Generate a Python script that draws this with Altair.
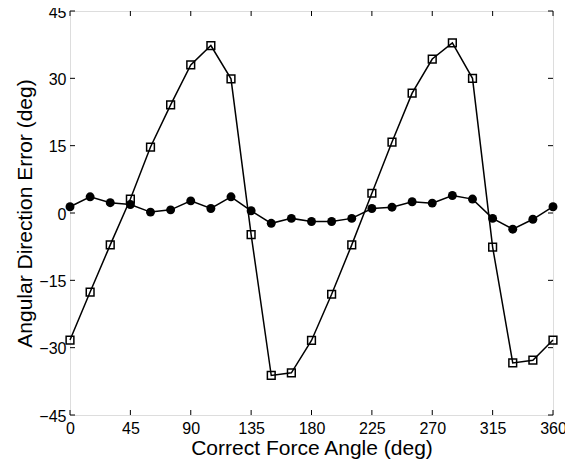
import altair as alt
import pandas as pd

angles = list(range(0, 361, 15))
square_err = [-28.3, -17.6, -7.1, 3.1, 14.7, 24.1, 33.0, 37.3, 29.9, -4.8, -36.2, -35.6, -28.4,
              -18.1, -7.1, 4.4, 15.8, 26.7, 34.3, 37.9, 30.0, -7.6, -33.4, -32.8, -28.3]
circle_err = [1.4, 3.6, 2.3, 1.9, 0.2, 0.7, 2.7, 1.0, 3.6, 0.5, -2.3, -1.2, -1.9,
              -1.9, -1.2, 1.0, 1.3, 2.5, 2.2, 3.9, 3.1, -1.2, -3.6, -1.4, 1.4]
x_ticks = [0, 45, 90, 135, 180, 225, 270, 315, 360]
y_ticks = [-45, -30, -15, 0, 15, 30, 45]

sq = pd.DataFrame({"angle": angles, "err": square_err})
ci = pd.DataFrame({"angle": angles, "err": circle_err})
xt = pd.DataFrame({"v": x_ticks})
yt = pd.DataFrame({"v": y_ticks})

FONT = "Liberation Sans"
xs = alt.Scale(domain=[0, 360], nice=False)
ys = alt.Scale(domain=[-45, 45], nice=False)

xax = alt.Axis(values=x_ticks, title="Correct Force Angle (deg)", grid=False, ticks=False,
               domain=False, labelPadding=5, labelFontSize=16, labelColor="black",
               titleFontSize=21, titleFontWeight="normal", titleColor="black",
               titlePadding=1, labelFont=FONT, titleFont=FONT, labelFlush=False)
yax = alt.Axis(values=y_ticks, title="Angular Direction Error (deg)", grid=False, ticks=False,
               domain=False, labelPadding=4, labelFontSize=16, labelColor="black",
               titleFontSize=21, titleFontWeight="normal", titleColor="black",
               titlePadding=3, labelFont=FONT, titleFont=FONT, labelFlush=False,
               labelOffset=1, labelExpr="replace(datum.label, '-', '–')")

base_x = alt.X("angle:Q", scale=xs, axis=xax)
base_y = alt.Y("err:Q", scale=ys, axis=yax)

ci_line = alt.Chart(ci).mark_line(color="black", strokeWidth=1.5).encode(x=base_x, y=base_y)
ci_pts = alt.Chart(ci).mark_point(shape="circle", filled=True, color="black", size=80, opacity=1).encode(
    x=alt.X("angle:Q", scale=xs), y=alt.Y("err:Q", scale=ys))
sq_line = alt.Chart(sq).mark_line(color="black", strokeWidth=1.5).encode(
    x=alt.X("angle:Q", scale=xs), y=alt.Y("err:Q", scale=ys))
sq_pts = alt.Chart(sq).mark_point(shape="square", filled=False, color="black", size=60,
                                  strokeWidth=1.5, opacity=1).encode(
    x=alt.X("angle:Q", scale=xs), y=alt.Y("err:Q", scale=ys))

TL = 5
xt_bot = alt.Chart(xt).mark_rule(color="black", strokeWidth=1).encode(
    x=alt.X("v:Q", scale=xs), y=alt.value(404), y2=alt.value(404 - TL))
xt_top = alt.Chart(xt).mark_rule(color="black", strokeWidth=1).encode(
    x=alt.X("v:Q", scale=xs), y=alt.value(0), y2=alt.value(TL))
yt_left = alt.Chart(yt).mark_rule(color="black", strokeWidth=1).encode(
    y=alt.Y("v:Q", scale=ys), x=alt.value(0), x2=alt.value(TL))
yt_right = alt.Chart(yt).mark_rule(color="black", strokeWidth=1).encode(
    y=alt.Y("v:Q", scale=ys), x=alt.value(483), x2=alt.value(483 - TL))

chart = alt.layer(ci_line, ci_pts, sq_line, sq_pts, xt_bot, xt_top, yt_left, yt_right).properties(
    width=483, height=404,
    autosize=alt.AutoSizeParams(type="none"),
    padding={"left": 62, "top": 3, "right": 12, "bottom": 46},
).configure_view(stroke="black", strokeWidth=2).configure(background="white")

chart.save("out.html", embed_options={"renderer": "svg", "actions": False})
